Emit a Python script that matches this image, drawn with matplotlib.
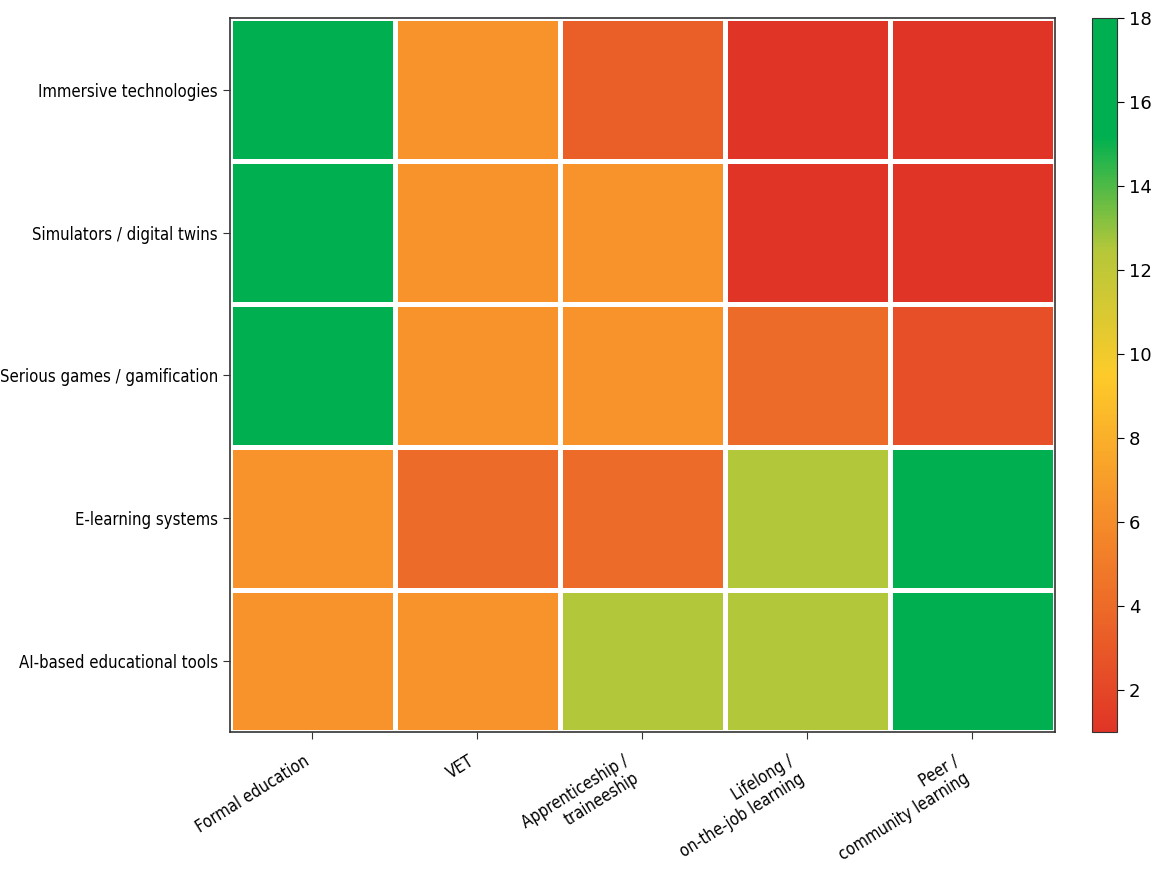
import numpy as np
import matplotlib.pyplot as plt
from matplotlib.colors import LinearSegmentedColormap

# Dados
tecnologias = ["Immersive technologies", "Simulators / digital twins",
               "Serious games / gamification", "E-learning systems",
               "AI-based educational tools"]
contextos = ["Formal education", "VET", "Apprenticeship /\ntraineeship",
             "Lifelong /\non-the-job learning", "Peer /\ncommunity learning"]

immersive = [17, 6.5, 3.3, 1, 1]
simuladores = [17, 6.5, 6.5, 1, 1]
serious_games = [17, 6.5, 6.5, 4, 2.5]
elearning = [6.5, 4, 4, 12.5, 17]
ai_tools = [6.5, 6.5, 12.5, 12.5, 17]

valores = np.array([immersive, simuladores, serious_games, elearning, ai_tools])

vmin, vmax = 1, 18
pontos = [(1, '#e03526'), (4, '#ed6b28'), (6.5, '#f7942a'), (9.5, '#fdcb2a'),
          (12.5, '#b5c73a'), (15.2, '#00b050'), (18, '#00b050')]
cmap = LinearSegmentedColormap.from_list(
    'semaforo', [((v - vmin) / (vmax - vmin), c) for v, c in pontos])

fig = plt.figure(figsize=(11.54, 8.77), dpi=100)
ax = fig.add_axes([0.199, 0.165, 0.715, 0.814])
cax = fig.add_axes([0.946, 0.165, 0.022, 0.814])

mesh = ax.pcolormesh(valores, cmap=cmap, vmin=vmin, vmax=vmax,
                     edgecolor='white', linewidth=2.5)
ax.set_ylim(len(tecnologias), 0)
ax.set_xlim(0, len(contextos))

ax.set_yticks(np.arange(len(tecnologias)) + 0.5)
ax.set_yticklabels(tecnologias, fontsize=12, fontstretch='condensed')
ax.set_xticks(np.arange(len(contextos)) + 0.5)
ax.set_xticklabels(contextos, fontsize=12, fontstretch='condensed',
                   rotation=32, ha='right')
ax.tick_params(length=5, color='#333333')
ax.tick_params(axis='x', pad=9)
for s in ax.spines.values():
    s.set_color('#333333')
    s.set_linewidth(1.2)

cb = fig.colorbar(mesh, cax=cax)
cb.set_ticks([2, 4, 6, 8, 10, 12, 14, 16, 18])
cb.ax.tick_params(labelsize=13, length=5)
cb.outline.set_edgecolor('#333333')

plt.savefig('out.png', dpi=100)
